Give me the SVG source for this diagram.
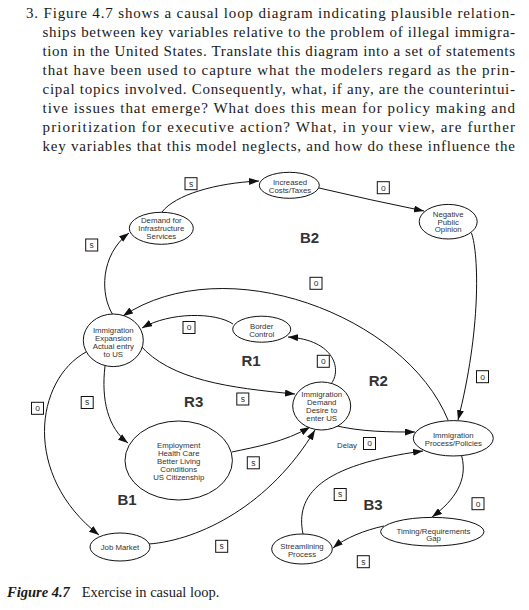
<svg xmlns="http://www.w3.org/2000/svg" width="529" height="610" viewBox="0 0 529 610">
<style>
.para{font-family:"Liberation Serif","Times New Roman",serif;font-size:15px;fill:#1a1a1a}
.cap{font-family:"Liberation Serif","Times New Roman",serif;font-size:14.5px;fill:#1a1a1a}
.node ellipse{fill:#fff;stroke:#111;stroke-width:1}
.node text{font-family:"Liberation Sans",Arial,sans-serif;font-size:7.8px;fill:#333;text-anchor:middle}
.conn path{fill:none;stroke:#111;stroke-width:1;marker-end:url(#ah)}
.pol rect{fill:#fff;stroke:#111;stroke-width:1}
.pol text{font-family:"Liberation Sans",Arial,sans-serif;font-size:8.5px;fill:#333;text-anchor:middle}
.loop{font-family:"Liberation Sans",Arial,sans-serif;font-size:15px;font-weight:bold;fill:#333;text-anchor:middle}
.small{font-family:"Liberation Sans",Arial,sans-serif;font-size:7.8px;fill:#333;text-anchor:middle}
</style>
<defs>
<marker id="ah" markerUnits="userSpaceOnUse" markerWidth="10" markerHeight="7" refX="10" refY="3.5" orient="auto">
<path d="M0,0 L10,3.5 L0,7 z" fill="#111"/>
</marker>
</defs>
<rect width="529" height="610" fill="#fff"/>
<g id="paragraph">
<text class="para" x="26" y="18" textLength="489" lengthAdjust="spacing">3. Figure 4.7 shows a causal loop diagram indicating plausible relation-</text>
<text class="para" x="42.5" y="37" textLength="472.5" lengthAdjust="spacing">ships between key variables relative to the problem of illegal immigra-</text>
<text class="para" x="42.5" y="56" textLength="472.5" lengthAdjust="spacing">tion in the United States. Translate this diagram into a set of statements</text>
<text class="para" x="42.5" y="75" textLength="472.5" lengthAdjust="spacing">that have been used to capture what the modelers regard as the prin-</text>
<text class="para" x="42.5" y="94" textLength="472.5" lengthAdjust="spacing">cipal topics involved. Consequently, what, if any, are the counterintui-</text>
<text class="para" x="42.5" y="113" textLength="472.5" lengthAdjust="spacing">tive issues that emerge? What does this mean for policy making and</text>
<text class="para" x="42.5" y="132" textLength="472.5" lengthAdjust="spacing">prioritization for executive action? What, in your view, are further</text>
<text class="para" x="42.5" y="151" textLength="472.5" lengthAdjust="spacing">key variables that this model neglects, and how do these influence the</text>
</g>
<g id="connectors" class="conn">
<path d="M162,212 C175,195 215,183 259,181"/>
<path d="M319,188 Q370,200 424,211"/>
<path d="M471.5,233 C479,255 481,330 458,420"/>
<path d="M448,420 C405,315 225,248 123,316"/>
<path d="M233,324 C215,312 170,312 142,328"/>
<path d="M331,384 C342,370 335,340 288,337"/>
<path d="M140,345 C170,380 230,388 295,394"/>
<path d="M105,366 C101,400 108,428 128,443"/>
<path d="M86,352 C35,380 22,475 99,535"/>
<path d="M232,452 C255,447 285,442 310,427"/>
<path d="M149,544 C200,540 270,505 315,430"/>
<path d="M333,425 C360,432 390,432 415,432"/>
<path d="M303,534 C295,495 320,465 423,451"/>
<path d="M461.7,456 C468,480 455,500 432,517"/>
<path d="M384,526 C365,530 345,538 333,548"/>
<path d="M113,315 C100,295 100,255 129,233"/>
</g>
<g id="polarities" class="pol">
<g><rect x="185" y="177.7" width="12" height="12"/><text x="191" y="186.5">s</text></g>
<g><rect x="85.7" y="239" width="12" height="12"/><text x="91.7" y="247.8">s</text></g>
<g><rect x="377.3" y="181.7" width="12" height="12"/><text x="383.3" y="190.5">o</text></g>
<g><rect x="310" y="277.3" width="12" height="12"/><text x="316" y="286.1">o</text></g>
<g><rect x="183" y="321.5" width="12" height="12"/><text x="189" y="330.3">o</text></g>
<g><rect x="317.3" y="355.3" width="12" height="12"/><text x="323.3" y="364.1">o</text></g>
<g><rect x="476.5" y="370.7" width="12" height="12"/><text x="482.5" y="379.5">o</text></g>
<g><rect x="236.8" y="393" width="12" height="12"/><text x="242.8" y="401.8">s</text></g>
<g><rect x="81.2" y="396.5" width="12" height="12"/><text x="87.2" y="405.3">s</text></g>
<g><rect x="31.5" y="402.3" width="12" height="12"/><text x="37.5" y="411.1">o</text></g>
<g><rect x="363.5" y="437.5" width="12" height="12"/><text x="369.5" y="446.3">o</text></g>
<g><rect x="247.3" y="456.8" width="12" height="12"/><text x="253.3" y="465.6">s</text></g>
<g><rect x="215.7" y="540.3" width="12" height="12"/><text x="221.7" y="549.1">s</text></g>
<g><rect x="334.2" y="488.5" width="12" height="12"/><text x="340.2" y="497.3">s</text></g>
<g><rect x="472" y="497.7" width="12" height="12"/><text x="478" y="506.5">o</text></g>
<g><rect x="357.3" y="555.7" width="12" height="12"/><text x="363.3" y="564.5">s</text></g>
</g>
<g id="loops">
<text class="loop" x="309.5" y="242.5">B2</text>
<text class="loop" x="251" y="366">R1</text>
<text class="loop" x="378.3" y="385.5">R2</text>
<text class="loop" x="193.7" y="406.5">R3</text>
<text class="loop" x="127" y="504.5">B1</text>
<text class="loop" x="373" y="510">B3</text>
<text class="small" x="347" y="447.8">Delay</text>
</g>
<g id="node-costs" class="node">
<ellipse cx="289.3" cy="185.3" rx="30" ry="13"/>
<text x="290" y="185">Increased</text>
<text x="290" y="193">Costs/Taxes</text>
</g>
<g id="node-infrastructure" class="node">
<ellipse cx="161.3" cy="228.3" rx="32" ry="16"/>
<text x="161.3" y="222.8">Demand for</text>
<text x="161.3" y="231">Infrastructure</text>
<text x="161.3" y="238.8">Services</text>
</g>
<g id="node-opinion" class="node">
<ellipse cx="448.2" cy="221.7" rx="29" ry="17.3"/>
<text x="448.2" y="217">Negative</text>
<text x="448.2" y="224.5">Public</text>
<text x="448.2" y="232">Opinion</text>
</g>
<g id="node-border" class="node">
<ellipse cx="261.7" cy="329.2" rx="29" ry="13"/>
<text x="261.7" y="328.8">Border</text>
<text x="261.7" y="336.8">Control</text>
</g>
<g id="node-expansion" class="node">
<ellipse cx="113.3" cy="340.3" rx="30" ry="26.3"/>
<text x="113.3" y="332.8">Immigration</text>
<text x="113.3" y="341">Expansion</text>
<text x="113.3" y="348.8">Actual entry</text>
<text x="113.3" y="356.8">to US</text>
</g>
<g id="node-demand" class="node">
<ellipse cx="321.7" cy="406" rx="29" ry="24"/>
<text x="321.7" y="397">Immigration</text>
<text x="321.7" y="405">Demand</text>
<text x="321.7" y="412.8">Desire to</text>
<text x="321.7" y="420.5">enter US</text>
</g>
<g id="node-process" class="node">
<ellipse cx="453.3" cy="438.3" rx="40" ry="17.7"/>
<text x="453.3" y="437.8">Immigration</text>
<text x="453.3" y="446">Process/Policies</text>
</g>
<g id="node-employment" class="node">
<ellipse cx="178.7" cy="460.5" rx="53.7" ry="39.5"/>
<text x="178.7" y="447.8">Employment</text>
<text x="178.7" y="455.8">Health Care</text>
<text x="178.7" y="463.8">Better Living</text>
<text x="178.7" y="472">Conditions</text>
<text x="178.7" y="480">US Citizenship</text>
</g>
<g id="node-job" class="node">
<ellipse cx="120" cy="547" rx="30" ry="14"/>
<text x="120" y="549.5">Job Market</text>
</g>
<g id="node-timing" class="node">
<ellipse cx="432.3" cy="531.7" rx="51.7" ry="14.3"/>
<text x="433.5" y="533.5">Timing/Requirements</text>
<text x="433.5" y="541">Gap</text>
</g>
<g id="node-streamlining" class="node">
<ellipse cx="302" cy="549" rx="30.3" ry="15"/>
<text x="302" y="548.8">Streamlining</text>
<text x="302" y="557">Process</text>
</g>
<g id="caption">
<text class="cap" x="7" y="596.5"><tspan font-weight="bold" font-style="italic">Figure 4.7</tspan><tspan x="81.7">Exercise in casual loop.</tspan></text>
</g>
</svg>
